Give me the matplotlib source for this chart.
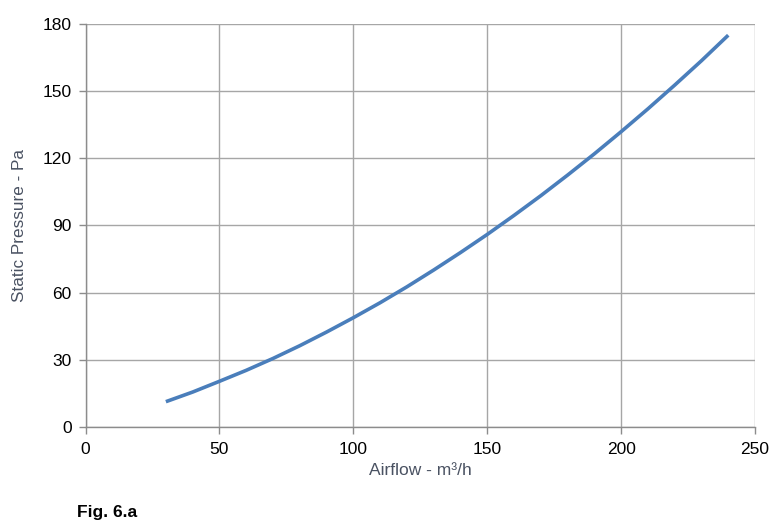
import matplotlib
matplotlib.use("Agg")
import matplotlib.pyplot as plt

airflow = [30, 40, 50, 60, 70, 80, 90, 100, 110, 120, 130, 140, 150, 160,
           170, 180, 190, 200, 210, 220, 230, 240]
pressure = [11.3, 15.6, 20.4, 25.3, 30.6, 36.3, 42.4, 48.8, 55.5, 62.6, 70.1,
            77.9, 86.0, 94.5, 103.3, 112.5, 122.0, 131.9, 142.1, 152.7, 163.6, 175.0]
xticks = [0, 50, 100, 150, 200, 250]
yticks = [0, 30, 60, 90, 120, 150, 180]

fig = plt.figure(figsize=(7.74, 5.31), dpi=100)
ax = fig.add_axes([0.1105, 0.1959, 0.865, 0.7589])

ax.plot(airflow, pressure, color="#4a7ebb", lw=2.6, solid_capstyle="butt", zorder=3)

ax.set_xlim(0, 250)
ax.set_ylim(0, 180)
ax.set_xticks(xticks)
ax.set_yticks(yticks)
ax.grid(True, color="#a6a6a6", lw=1.0)
for s in ["top", "right"]:
    ax.spines[s].set_visible(False)
for s in ["left", "bottom"]:
    ax.spines[s].set_color("#8c8c8c")
    ax.spines[s].set_linewidth(1.0)
ax.tick_params(axis="both", direction="out", length=5, width=1.0, color="#8c8c8c",
               labelsize=12.5, labelcolor="black")
ax.tick_params(axis="y", pad=5)
ax.tick_params(axis="x", pad=6)
for lab in ax.get_xticklabels() + ax.get_yticklabels():
    lab.set_family("Liberation Sans")

ax.set_xlabel("Airflow - m³/h", family="Liberation Sans", fontsize=12.5,
              color="#4a5262", labelpad=4)
ax.set_ylabel("Static Pressure - Pa", family="Liberation Sans", fontsize=12.3,
              color="#4a5262", labelpad=11)
fig.text(0.1, 0.034, "Fig. 6.a", family="Liberation Sans", fontweight="bold", fontsize=12.5,
         color="black", ha="left", va="center")

fig.savefig("out.png", dpi=100)
